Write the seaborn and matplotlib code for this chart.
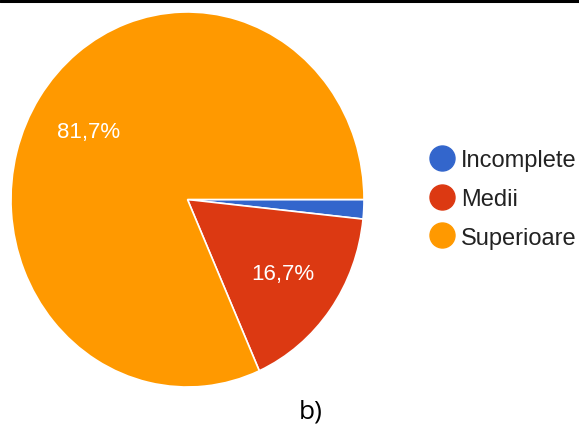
import matplotlib
matplotlib.use("Agg")
import matplotlib.pyplot as plt
from matplotlib.lines import Line2D
import seaborn as sns

categories = ["Incomplete", "Medii", "Superioare"]
values = [1, 10, 49]
colors = ["#3366CC", "#DC3912", "#FF9900"]
caption = "b)"

sns.set_theme(style="white")
plt.rcParams["font.family"] = ["Liberation Sans", "DejaVu Sans"]

W, H = 579, 427
fig = plt.figure(figsize=(W / 100, H / 100), dpi=100)
fig.patch.set_facecolor("white")

# pie bounding box in pixels (left, top, right, bottom)
L, T, R, B = 11, 13, 364, 388
ax = fig.add_axes([L / W, (H - B) / H, (R - L) / W, (B - T) / H])


def fmt(p):
    if p < 5:
        return ""
    return f"{p:.1f}%".replace(".", ",")


wedges, texts, autotexts = ax.pie(
    values,
    colors=colors,
    startangle=0,
    counterclock=False,
    autopct=fmt,
    pctdistance=0.67,
    wedgeprops=dict(edgecolor="white", linewidth=1.2),
    textprops=dict(color="white", fontsize=16),
)
ax.set_aspect("auto")
ax.set_xlim(-1, 1)
ax.set_ylim(-1, 1)
ax.axis("off")

handles = [
    Line2D([0], [0], marker="o", linestyle="none", markersize=18,
           markerfacecolor=c, markeredgecolor=c)
    for c in colors
]
fig.legend(
    handles, categories,
    loc="center left",
    bbox_to_anchor=(428 / W, 1 - 200 / H),
    frameon=False,
    fontsize=17,
    handletextpad=0.2,
    labelspacing=0.7,
    borderaxespad=0,
    borderpad=0,
    handlelength=1.2,
    labelcolor="#222222",
)

fig.text(311 / W, 1 - 412 / H, caption, ha="center", va="center",
         fontsize=19, color="black", family=["Open Sans", "DejaVu Sans"])

fig.add_artist(Line2D([0, 1], [1 - 1.5 / H, 1 - 1.5 / H], color="black",
                      linewidth=2.2, transform=fig.transFigure))

fig.savefig("out.png", dpi=100)
